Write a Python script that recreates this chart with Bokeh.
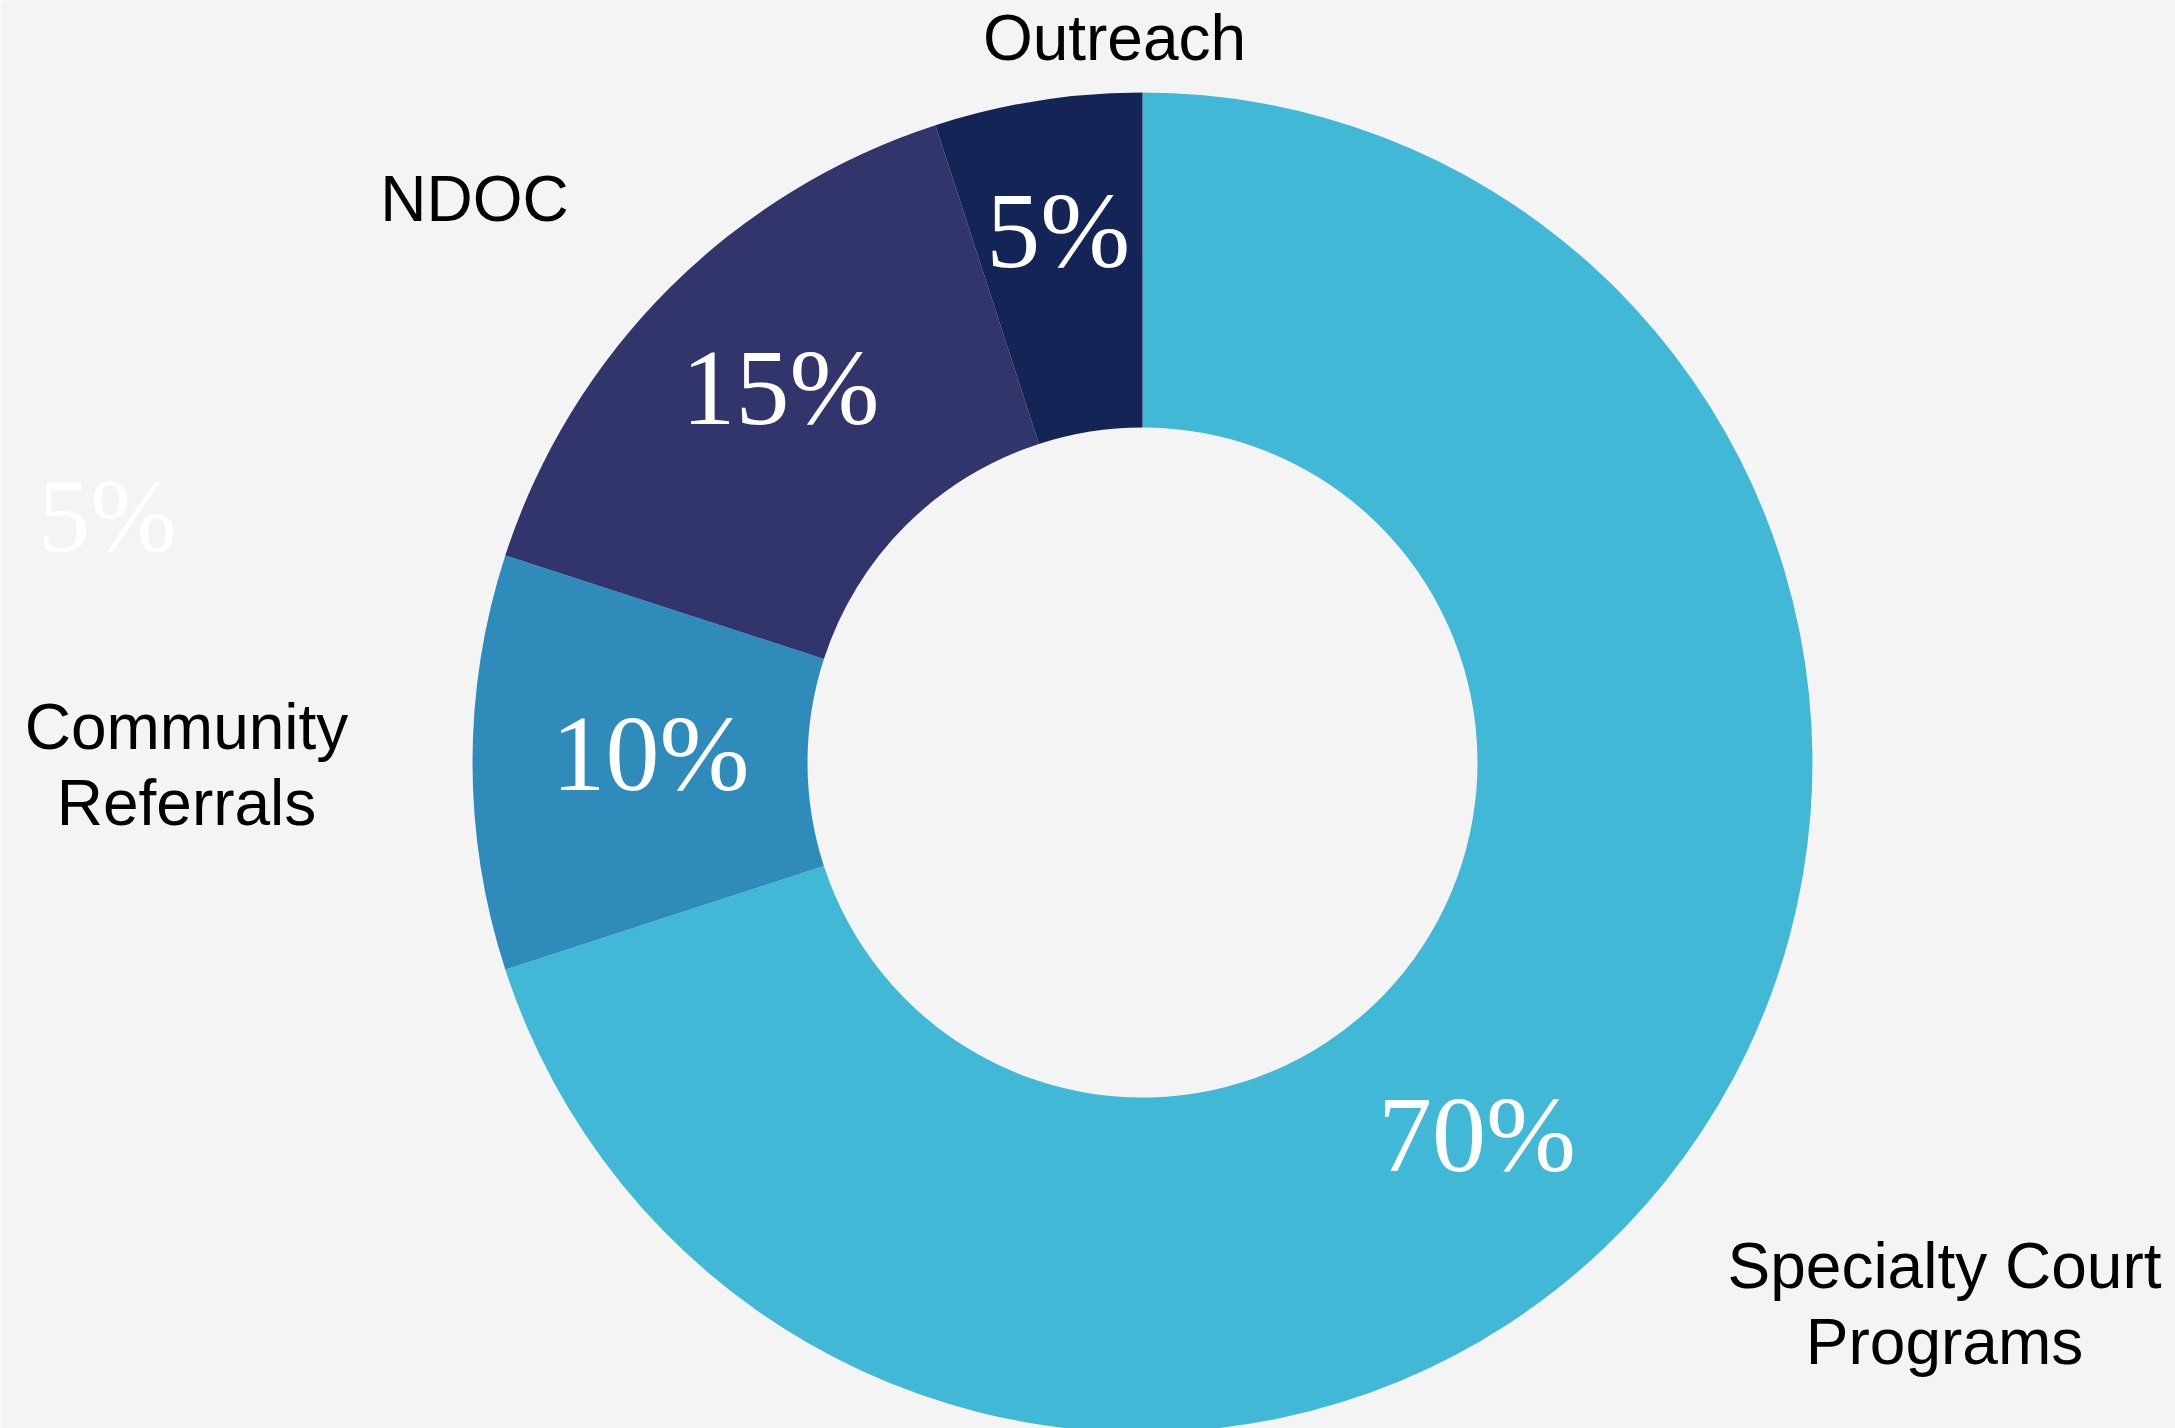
import math
from bokeh.plotting import figure
from bokeh.models import Range1d, ColumnDataSource
from bokeh.embed import file_html
from bokeh.resources import INLINE
from bokeh.core.properties import value

# ---- data ----
categories = ["Specialty Court Programs", "Community Referrals", "NDOC", "Outreach"]
shares = [70, 10, 15, 5]
pct_labels = ["70%", "10%", "15%", "5%"]
colors = ["#42B8D7", "#2E8BBA", "#31356C", "#142457"]
stray_label = "5%"

# ---- layout ----
W, H = 2175, 1428
CX, CY = 1142, 762          # donut centre in page pixels
R_OUT, R_IN = 670, 335
BG = "#F4F4F4"

p = figure(width=W, height=H, x_range=Range1d(-CX, W - CX), y_range=Range1d(CY - H, CY),
           output_backend="svg", toolbar_location=None, min_border=0)
p.axis.visible = False
p.grid.visible = False
p.outline_line_color = None
p.background_fill_color = BG
p.border_fill_color = BG

# wedges: clockwise from 12 o'clock
total = float(sum(shares))
starts, ends, mids = [], [], []
cum = 0.0
for s in shares:
    b0 = 360.0 * cum / total
    b1 = 360.0 * (cum + s) / total
    starts.append(math.radians(90 - b1))
    ends.append(math.radians(90 - b0))
    mids.append((b0 + b1) / 2)
    cum += s

src = ColumnDataSource(dict(cat=categories, start=starts, end=ends, color=colors))
p.annular_wedge(x=0, y=0, inner_radius=R_IN, outer_radius=R_OUT,
                start_angle="start", end_angle="end", direction="anticlock",
                fill_color="color", line_color=None, source=src)

# percentage labels placed along each slice's bisector
lab_radius = [500, 492, 521, 539]
lab_shift = [12, 1, 1, 0]          # degrees of nudge along the ring
lx, ly = [], []
for m, r, d in zip(mids, lab_radius, lab_shift):
    b = math.radians(m + d)
    lx.append(r * math.sin(b))
    ly.append(r * math.cos(b))
p.text(x=lx, y=ly, text=pct_labels, text_color="white", text_align="center",
       text_baseline="alphabetic", text_font=value("Liberation Serif"),
       text_font_size="108px")

# stray faint label at left
p.text(x=[-1035], y=[247], text=[stray_label], text_color="white", text_align="center",
       text_baseline="alphabetic", text_font=value("Liberation Serif"),
       text_font_size="104px")

# category labels
cat_lines = [["Specialty Court", "Programs"], ["Community", "Referrals"], ["NDOC"], ["Outreach"]]
cat_pos = [(802, -503), (-956, 36), (-668, 564), (-28, 725)]
tx, ty, tt = [], [], []
for lines, (cx, cy) in zip(cat_lines, cat_pos):
    for i, ln in enumerate(lines):
        tx.append(cx)
        ty.append(cy - i * 76)
        tt.append(ln)
p.text(x=tx, y=ty, text=tt, text_color="black", text_align="center",
       text_baseline="alphabetic", text_font=value("Liberation Sans"),
       text_font_size="64px")

html = file_html(p, INLINE)
html = html.replace("<body>", '<body style="background-color:%s;">' % BG, 1)
open("out.html", "w").write(html)
